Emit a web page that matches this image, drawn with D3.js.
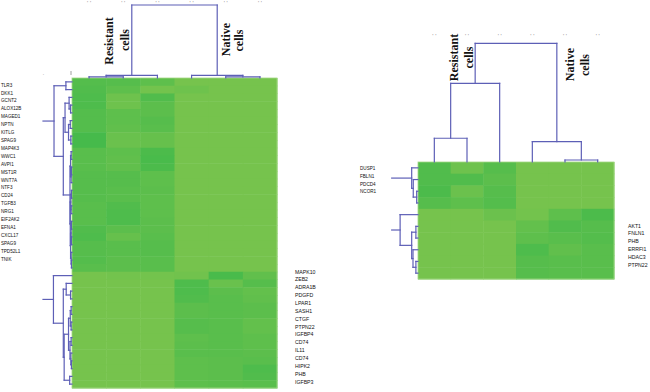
<!DOCTYPE html>
<html>
<head>
<meta charset="utf-8">
<script src="https://cdn.jsdelivr.net/npm/d3@7"></script>
<style>
body { margin: 0; background: #fff; }
</style>
</head>
<body>
<svg width="650" height="392"></svg>
<script>
// ---- data ----
// gene names, left panel
var leftGenesTop = ["TLR3","DKK1","GCNT2","ALOX12B","MAGED1","NPTN","KITLG","SPAG9","MAP4K3","WWC1","AVPI1","MST1R","WNT7A","NTF3","CD24","TGFB3","NRG1","EIF2AK2","EFNA1","CXCL17","SPAG9","TPD52L1","TNIK"];
var leftGenesBottom = ["MAPK10","ZEB2","ADRA1B","PDGFD","LPAR1","SASH1","CTGF","PTPN22","IGFBP4","CD74","IL11","CD74","HIPK2","PHB","IGFBP3"];
// gene names, right panel
var rightGenesTop = ["DUSP1","FBLN1","PDCD4","NCOR1"];
var rightGenesBottom = ["AKT1","FNLN1","PHB","ERRFI1","HDAC3","PTPN22"];

var groupNames = [["Resistant","cells"],["Native","cells"]];

// expression intensity 0 (light) .. 1 (dark), 6 samples per row
var leftValues = [
  [.65,.60,.45,0,0,0],[.70,.45,.05,.15,0,0],[.75,.15,.70,0,0,0],[.75,.15,.50,0,0,0],
  [.65,.45,.50,0,0,0],[.65,.45,.60,0,0,0],[.65,.40,.55,0,0,0],[.90,.25,.30,0,0,0],
  [.90,.20,.30,0,0,0],[.55,.45,.80,0,0,0],[.55,.40,.85,0,0,0],[.55,.40,.80,0,0,0],
  [.60,.60,.45,0,0,0],[.60,.60,.45,0,0,0],[.60,.55,.50,0,0,0],[.60,.55,.45,0,0,0],
  [.55,.70,.45,0,0,0],[.55,.75,.45,0,0,0],[.55,.75,.50,0,0,0],[.70,.50,.50,0,0,0],
  [.75,.30,.55,0,0,0],[.60,.55,.60,0,0,0],[.60,.55,.60,0,0,0],[.65,.50,.55,0,0,0],
  [.55,.50,.55,0,0,0],
  [0,.05,.05,.10,.85,.40],[0,0,0,.75,.25,.60],[0,0,0,.75,.50,.35],[0,0,0,.70,.55,.40],
  [0,0,0,.50,.55,.50],[0,0,0,.50,.55,.50],[0,0,0,.60,.55,.35],[0,0,0,.60,.55,.35],
  [0,0,0,.45,.55,.45],[0,0,0,.50,.55,.45],[0,0,0,.55,.55,.50],[0,0,0,.45,.50,.55],
  [0,0,0,.45,.50,.75],[0,0,0,.45,.50,.70],[0,0,0,.45,.50,.55]
];
var rightValues = [
  [.70,.15,.60,0,0,0],[.70,.70,.50,0,0,0],[.80,.20,.60,0,0,0],[.60,.45,.65,0,0,0],
  [0,0,.20,.05,.45,.80],[0,0,0,.35,.70,.60],[0,0,0,.45,.55,.65],[0,0,0,.75,.40,.55],
  [0,0,0,.60,.55,.55],[0,0,0,.60,.55,.55]
];

// dendrograms: [mergeHeight, left, right], leaves = row/column index
var leftRowTrees = [
  [.62, [.21, 0, 1],
    [.30,
      [.24, [.10, 2, [.05, 3, 4]], [.12, [.06, 5, 6], [.04, 7, 8]]],
      [.07,
        [.05, [.03, 9, 10], [.03, [.02, 11, 12], 13]],
        [.06, [.04, [.02, 14, 15], [.03, 16, 17]],
              [.05, [.03, [.02, 18, 19], [.02, 20, 21]], [.03, 22, [.02, 23, 24]]]]]]],
  [.64, 25,
    [.30,
      [.20, 26, [.05, 27, 28]],
      [.27,
        [.12, [.06, [.03, 29, 30], [.03, 31, 32]], [.07, [.03, 33, 34], [.04, 35, [.02, 36, 37]]]],
        [.08, 38, 39]]]]
];
var leftColTree = [1, [.035, [.015, 0, 1], 2], [.035, 3, [.015, 4, 5]]];

var rightRowTrees = [
  [.24, 0, [.18, 1, [.05, 2, 3]]],
  [.68, 4, [.24, [.08, 5, 6], [.19, 7, [.08, 8, 9]]]]
];
var rightColTree = [1, [.663, [.2, 0, 1], 2], [.171, 3, [.017, 4, 5]]];

// ---- drawing ----
var svg = d3.select("svg");
var color = d3.scaleLinear().domain([0, 1]).range(["#76c34d", "#41b94b"]);
var lineColor = "#5d5fb6";

function layoutTree(tree, posScale) {
  var root = d3.hierarchy(tree, d => Array.isArray(d) ? d.slice(1) : null);
  root.eachAfter(n => {
    if (n.children) {
      n.h = n.data[0];
      n.pos = d3.mean(n.children, c => c.pos);
    } else {
      n.h = 0;
      n.pos = posScale(n.data) + posScale.bandwidth() / 2;
    }
  });
  return root;
}

// horizontal = true: heights go along x (row dendrogram)
function drawTree(g, root, hScale, horizontal, stubTo) {
  var segs = [];
  root.each(n => {
    if (!n.children) return;
    var ps = n.children.map(c => c.pos);
    segs.push([hScale(n.h), d3.min(ps), hScale(n.h), d3.max(ps)]);
    n.children.forEach(c => segs.push([hScale(n.h), c.pos, hScale(c.h), c.pos]));
  });
  if (stubTo != null) segs.push([hScale(stubTo), root.pos, hScale(root.h), root.pos]);
  g.selectAll(null).data(segs).join("line")
    .attr("x1", d => horizontal ? d[0] : d[1])
    .attr("y1", d => horizontal ? d[1] : d[0])
    .attr("x2", d => horizontal ? d[2] : d[3])
    .attr("y2", d => horizontal ? d[3] : d[2])
    .attr("stroke", lineColor)
    .attr("stroke-width", 1.2)
    .attr("stroke-linecap", "square");
}

function drawPanel(cfg) {
  var g = svg.append("g");
  var nRows = cfg.values.length;
  var y = d3.scaleBand().domain(d3.range(nRows)).range([cfg.y0, cfg.y1]);
  var x = d3.scaleBand().domain(d3.range(6)).range([cfg.x0, cfg.x1]);

  var cells = [];
  cfg.values.forEach((row, r) => row.forEach((v, c) => cells.push({r: r, c: c, v: v})));
  g.selectAll(null).data(cells).join("rect")
    .attr("x", d => x(d.c))
    .attr("y", d => y(d.r))
    .attr("width", x.bandwidth() + 0.5)
    .attr("height", y.bandwidth() + 0.5)
    .attr("fill", d => color(d.v));
  g.append("rect")
    .attr("x", cfg.x0).attr("y", cfg.y0)
    .attr("width", cfg.x1 - cfg.x0).attr("height", cfg.y1 - cfg.y0)
    .attr("fill", "none").attr("stroke", "#a3d884").attr("stroke-width", 0.8);

  // row dendrograms
  var rowH = d3.scaleLinear().domain([0, 1]).range([cfg.x0, cfg.rowStubX]);
  cfg.rowTrees.forEach(t => drawTree(g, layoutTree(t, y), rowH, true, 1));

  // column dendrogram
  var colH = d3.scaleLinear().domain([0, 1]).range([cfg.y0, cfg.colTopY]);
  drawTree(g, layoutTree(cfg.colTree, x), colH, false, null);

  // faint cut-off column labels at the top
  g.selectAll(null).data(d3.range(6)).join("text")
    .attr("x", d => x(d) + x.bandwidth() / 2)
    .attr("y", cfg.dotY)
    .attr("text-anchor", "middle")
    .attr("font-size", 6)
    .attr("font-family", "Liberation Sans, Arial, sans-serif")
    .attr("fill", "#8a8a8a")
    .text("' '");

  // gene labels
  cfg.labels.forEach(L => {
    var ly = d3.scaleLinear().domain([0, L.names.length - 1]).range(L.yRange);
    g.selectAll(null).data(L.names).join("text")
      .attr("x", L.x)
      .attr("y", (d, i) => ly(i))
      .attr("dy", "0.35em")
      .attr("font-size", L.size)
      .attr("font-family", L.narrow ? "Liberation Sans Narrow, Arial Narrow, Liberation Sans, sans-serif" : "Liberation Sans, Arial, sans-serif")
      .attr("fill", "#111")
      .text(d => d);
  });

  // group titles
  cfg.groupPos.forEach((p, gi) => {
    groupNames[gi].forEach((line, li) => {
      g.append("text")
        .attr("transform", "translate(" + p.x[li] + "," + p.y[li] + ") rotate(-90)")
        .attr("text-anchor", "middle")
        .attr("font-size", 12)
        .attr("font-weight", "bold")
        .attr("font-family", "Liberation Serif, Times New Roman, serif")
        .attr("fill", "#111")
        .text(line);
    });
  });
  return g;
}

var leftPanel = drawPanel({
  values: leftValues, x0: 72, x1: 277, y0: 78, y1: 388,
  rowTrees: leftRowTrees, rowStubX: 43,
  colTree: leftColTree, colTopY: 5, dotY: 5,
  labels: [
    {names: leftGenesTop, x: 1, yRange: [85, 259], size: 4.6, narrow: true},
    {names: leftGenesBottom, x: 295, yRange: [271.7, 381.7], size: 5.2, narrow: false}
  ],
  groupPos: [{x: [113, 128.5], y: [41, 40]}, {x: [230, 242.5], y: [39.5, 40.5]}]
});
// stray marks near the left dendrogram corner
leftPanel.append("text").attr("x", 43).attr("y", 77).attr("font-size", 5).attr("fill", "#888").text("'");
leftPanel.append("line").attr("x1", 71).attr("x2", 71).attr("y1", 71).attr("y2", 75)
  .attr("stroke", "#888").attr("stroke-width", 0.8);

drawPanel({
  values: rightValues, x0: 418, x1: 614, y0: 162, y1: 279,
  rowTrees: rightRowTrees, rowStubX: 391.7,
  colTree: rightColTree, colTopY: 43.3, dotY: 38,
  labels: [
    {names: rightGenesTop, x: 360, yRange: [168.3, 191.7], size: 4.6, narrow: true},
    {names: rightGenesBottom, x: 628, yRange: [225.7, 265], size: 5.2, narrow: false}
  ],
  groupPos: [{x: [457.5, 472.5], y: [57.5, 57.5]}, {x: [573.5, 588.5], y: [64.5, 65]}]
});
</script>
</body>
</html>
